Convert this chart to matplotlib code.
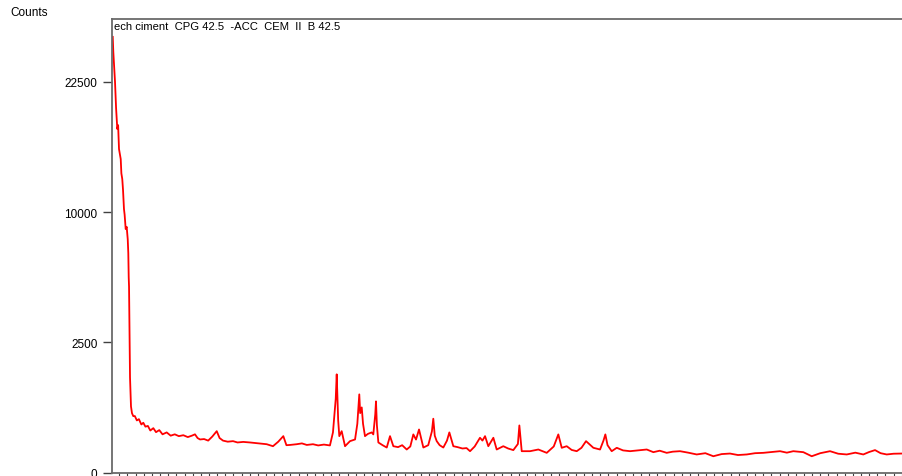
import numpy as np
import matplotlib.pyplot as plt
from matplotlib.ticker import FixedLocator, MultipleLocator

# 2-theta (deg) and counts
two_theta = [2.19, 2.26, 2.47, 2.60, 2.75, 2.85, 2.96, 3.05, 3.17, 3.25, 3.36, 3.45,
             3.57, 3.65, 3.78, 3.90, 4.03, 4.10, 4.15, 4.19, 4.31, 4.43, 4.55, 4.71,
             4.90, 5.15, 5.40, 5.70, 5.94, 6.20, 6.50, 6.80, 7.17, 7.50, 7.90, 8.30,
             8.81, 9.30, 9.80, 10.30, 10.85, 11.40, 11.90, 12.28, 12.60, 12.90, 13.40,
             13.90, 14.40, 14.95, 15.30, 15.72, 16.30, 16.95, 17.50, 18.20, 19.03,
             19.70, 20.40, 21.08, 21.85, 22.50, 23.12, 23.50, 23.94, 24.76, 25.40,
             26.00, 26.76, 27.40, 28.10, 28.84, 29.21, 29.55, 29.67, 29.74, 29.85,
             29.99, 30.28, 30.69, 31.30, 31.92, 32.20, 32.32, 32.44, 32.55, 32.74,
             32.90, 33.14, 33.50, 33.96, 34.16, 34.40, 34.49, 34.60, 34.78, 35.30,
             35.81, 36.21, 36.62, 37.20, 37.70, 38.26, 38.70, 39.07, 39.40, 39.77,
             40.30, 40.90, 41.35, 41.52, 41.70, 41.94, 42.30, 42.75, 43.20, 43.49,
             43.98, 44.50, 45.10, 45.60, 46.03, 46.60, 47.25, 47.55, 47.87, 48.27,
             48.89, 49.30, 50.11, 50.70, 51.34, 51.90, 52.08, 52.37, 53.39, 54.41,
             55.44, 56.30, 56.86, 57.28, 57.89, 58.50, 59.12, 59.70, 60.26, 61.16,
             61.98, 62.40, 62.63, 62.90, 63.41, 64.03, 64.80, 65.66, 66.60, 67.71,
             68.52, 69.30, 70.16, 70.90, 71.79, 72.80, 73.84, 74.90, 75.88, 76.90,
             77.92, 78.90, 79.98, 81.00, 82.01, 83.00, 84.06, 84.90, 85.69, 86.92,
             87.95, 89.00, 90.20, 91.20, 92.25, 93.30, 94.28, 95.00, 95.72, 96.40,
             97.15, 98.00, 98.99]
counts = [27990, 26090, 22500, 19600, 17400, 17800, 15430, 15000, 14490, 13200, 12700,
          11800, 10230, 9800, 8740, 8900, 8030, 7100, 5625, 5100, 1335, 644, 520, 469,
          470, 400, 420, 340, 365, 310, 320, 260, 290, 240, 265, 215, 237, 200, 215,
          195, 205, 185, 200, 215, 175, 161, 165, 150, 190, 252, 175, 150, 140, 145,
          133, 138, 133, 128, 122, 118, 102, 140, 195, 110, 112, 118, 125, 112, 118,
          108, 115, 108, 237, 800, 1421, 947, 400, 195, 252, 102, 145, 161, 350, 587,
          900, 520, 625, 350, 195, 220, 237, 214, 500, 746, 330, 133, 110, 92, 195,
          102, 95, 110, 78, 100, 214, 160, 273, 92, 110, 250, 427, 200, 145, 110, 92,
          150, 237, 102, 95, 85, 88, 67, 100, 178, 150, 195, 102, 178, 78, 102, 85,
          74, 120, 327, 67, 67, 78, 57, 100, 214, 90, 102, 75, 67, 90, 145, 90, 78,
          150, 214, 110, 67, 90, 72, 67, 72, 78, 61, 70, 57, 64, 67, 58, 48, 55, 39,
          50, 53, 45, 48, 55, 57, 62, 67, 58, 67, 61, 39, 55, 67, 52, 48, 58, 48, 62,
          74, 55, 48, 52, 53]

ytick_vals = [0, 2500, 10000, 22500]

fig = plt.figure(figsize=(9.03, 4.77), dpi=100)
ax = fig.add_axes([112 / 903, 3.5 / 477, 1 - 112 / 903, (474 - 20) / 477])

ax.plot(two_theta, counts, color="#ff0000", linewidth=1.3)

# square root count axis
ax.set_yscale("function", functions=(lambda v: np.sqrt(np.clip(v, 0, None)), np.square))
ax.set_ylim(0, 30400)
ax.set_xlim(2.1, 99.15)

ax.yaxis.set_major_locator(FixedLocator(ytick_vals))
ax.set_yticklabels([str(v) for v in ytick_vals], fontsize=8.5, family="Liberation Sans")
ax.yaxis.set_minor_locator(FixedLocator([]))
ax.xaxis.set_major_locator(MultipleLocator(1))
ax.set_xticklabels([])

ax.tick_params(axis="y", direction="out", length=6.5, width=1, color="#404040", pad=4)
ax.tick_params(axis="x", direction="out", length=2.5, width=0.8, color="#404040")

for side in ["left", "bottom", "top"]:
    ax.spines[side].set_color("#6a6a6a")
    ax.spines[side].set_linewidth(1.3)
ax.spines["right"].set_visible(False)

ax.text(0.002, 0.995, "ech ciment  CPG 42.5  -ACC  CEM  II  B 42.5", transform=ax.transAxes,
        ha="left", va="top", fontsize=8.1, family="Liberation Sans")
fig.text(10 / 903, 1 - 13 / 477, "Counts", ha="left", va="center", fontsize=8.5,
         family="Liberation Sans")

fig.savefig("out.png", dpi=100)
